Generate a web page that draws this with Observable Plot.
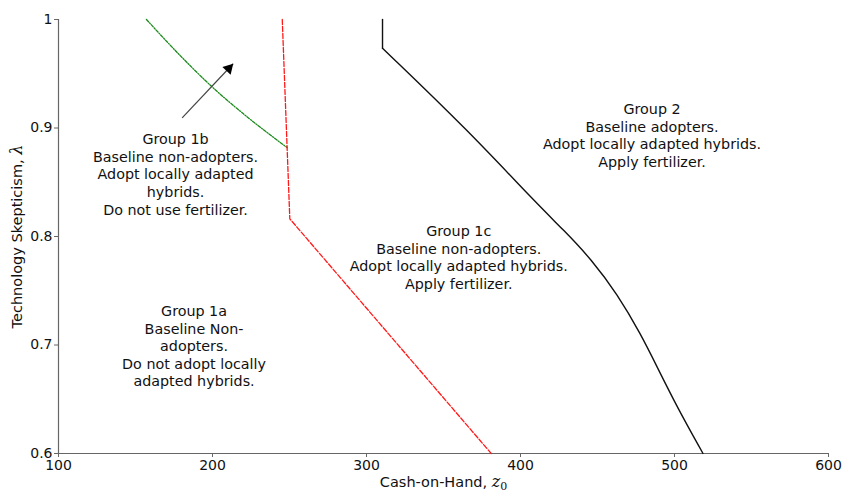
<!DOCTYPE html>
<html>
<head>
<meta charset="utf-8">
<script src="https://cdn.jsdelivr.net/npm/d3@7"></script>
<script src="https://cdn.jsdelivr.net/npm/@observablehq/plot@0.6"></script>
<style>
  html, body { margin: 0; padding: 0; background: #fff; }
  #chart svg { display: block; }
</style>
</head>
<body>
<div id="chart"></div>
<script>
// Axis ticks
const xTicks = [100, 200, 300, 400, 500, 600];
const yTicks = [0.6, 0.7, 0.8, 0.9, 1];

// Black solid boundary (Group 2 vs others): vertical top part, then curve
const blackTopX = [310.4, 310.4];
const blackTopY = [1.0, 0.9735];
const blackX = [310.4, 366.0, 410.0, 428.0, 446.0, 463.0, 478.0, 489.0, 502.0, 518.5];
const blackY = [0.9735, 0.8977, 0.8310, 0.8060, 0.7790, 0.7465, 0.7103, 0.6790, 0.6420, 0.6];

// Red dashed boundary (Group 1a vs 1b/1c)
const redX = [245.3, 250.2, 381.0];
const redY = [1.0, 0.8163, 0.6];

// Green dash-dot boundary (Group 1b vs 1c)
const greenX = [157.1, 179.2, 199.8, 220.3, 248.5];
const greenY = [1.0, 0.9665, 0.9378, 0.9128, 0.8819];

// Arrow (tail -> tip)
const arrowX = [180.3, 213.4];
const arrowY = [0.9094, 0.9592];

// Region annotations
const groupLabels = [
  "Group 1b\nBaseline non-adopters.\nAdopt locally adapted\nhybrids.\nDo not use fertilizer.",
  "Group 1a\nBaseline Non-\nadopters.\nDo not adopt locally\nadapted hybrids.",
  "Group 1c\nBaseline non-adopters.\nAdopt locally adapted hybrids.\nApply fertilizer.",
  "Group 2\nBaseline adopters.\nAdopt locally adapted hybrids.\nApply fertilizer."
];
const groupX = [176.0, 188.0, 359.9, 485.4];
const groupY = [0.8578, 0.6995, 0.7811, 0.8935];

const xLabel = "Cash-on-Hand, ";
const yLabel = "Technology Skepticism, ";

const toPts = (xs, ys) => xs.map((x, i) => ({x, y: ys[i]}));
const blackTop = toPts(blackTopX, blackTopY);
const black = toPts(blackX, blackY);
const red = toPts(redX, redY);
const green = toPts(greenX, greenY);
const groups = groupLabels.map((t, i) => ({label: t, x: groupX[i], y: groupY[i]}));
const arrow = [{x1: arrowX[0], y1: arrowY[0], x2: arrowX[1], y2: arrowY[1]}];

const svg = Plot.plot({
  width: 842,
  height: 496,
  marginLeft: 58,
  marginRight: 14,
  marginTop: 19,
  marginBottom: 43,
  style: {fontFamily: "'DejaVu Sans', Verdana, sans-serif", fontSize: "14px", color: "#111", background: "#fff"},
  x: {domain: [100, 600]},
  y: {domain: [0.6, 1]},
  marks: [
    Plot.axisX({ticks: xTicks, tickSize: 4, tickPadding: 3, label: null, fontSize: 14, stroke: "#666", fill: "#111", tickFormat: d => String(d)}),
    Plot.axisY({ticks: yTicks, tickSize: 4, tickPadding: 2, label: null, fontSize: 14, stroke: "#666", fill: "#111", tickFormat: d => String(d)}),
    Plot.ruleY([0.6], {stroke: "#666", strokeWidth: 1.2}),
    Plot.ruleX([100], {stroke: "#666", strokeWidth: 1.2}),
    Plot.line(green, {x: "x", y: "y", stroke: "#1a8a1a", strokeWidth: 1.3, strokeDasharray: "3,1.5,1,1.5", curve: "monotone-x"}),
    Plot.line(red, {x: "x", y: "y", stroke: "#ff1a1a", strokeWidth: 1.3, strokeDasharray: "5,2"}),
    Plot.line(blackTop, {x: "x", y: "y", stroke: "#111", strokeWidth: 1.4}),
    Plot.line(black, {x: "x", y: "y", stroke: "#111", strokeWidth: 1.4, curve: "basis"}),
    Plot.link(arrow, {x1: "x1", y1: "y1", x2: "x2", y2: "y2", stroke: "#444", strokeWidth: 1.2}),
    Plot.dot(arrow, {x: "x2", y: "y2", symbol: "triangle", r: 4.2, fill: "#000", stroke: "none", rotate: 43, dx: -4.4, dy: 4.7}),
    Plot.text(groups, {x: "x", y: "y", text: "label", fontSize: 14.3, lineHeight: 1.23, textAnchor: "middle", lineAnchor: "middle", fill: "#111"}),
    Plot.text([xLabel], {frameAnchor: "bottom", text: d => d, dy: 33, fontSize: 14.5, fill: "#111", textAnchor: "middle"}),
    Plot.text([yLabel], {frameAnchor: "left", text: d => d, dx: -41, rotate: -90, fontSize: 14.5, fill: "#111", textAnchor: "middle"})
  ]
});

// Add math-style parts to the axis labels
const s = d3.select(svg);
const mathFont = "'DejaVu Serif', 'Liberation Serif', serif";
s.selectAll("text").each(function() {
  const t = d3.select(this);
  const content = this.textContent;
  if (content.startsWith("Cash-on-Hand")) {
    t.text("Cash-on-Hand,\u00a0");
    t.append("tspan").attr("font-family", mathFont).attr("font-style", "italic").attr("font-size", 16).text("z");
    t.append("tspan").attr("font-family", mathFont).attr("font-size", 11).attr("dy", "0.3em").text("0");
  } else if (content.startsWith("Technology Skepticism")) {
    t.text("Technology Skepticism,\u00a0");
    t.append("tspan").attr("font-family", mathFont).attr("font-style", "italic").attr("font-size", 16).text("λ");
  }
});

document.getElementById("chart").appendChild(svg);
</script>
</body>
</html>
